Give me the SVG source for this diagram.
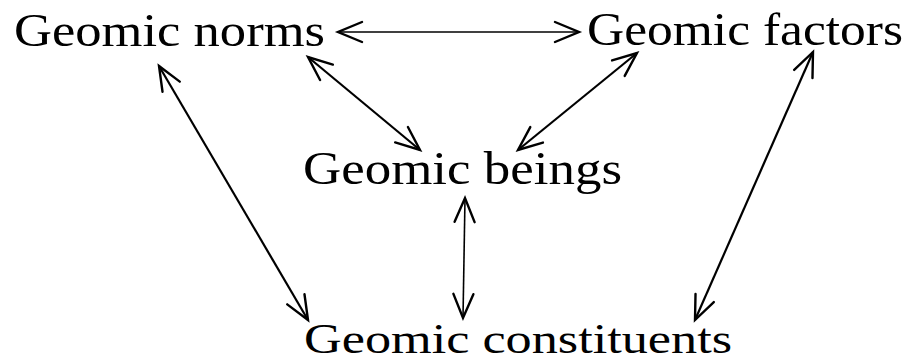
<svg xmlns="http://www.w3.org/2000/svg" width="909" height="363" viewBox="0 0 909 363">
<style>
.t{font-family:"Liberation Serif","Times New Roman",serif;font-size:46px;fill:#000}
.c{stroke:#000;stroke-width:2.2;fill:none;marker-start:url(#a);marker-end:url(#b)}
.thin{stroke-width:1.6}
</style>
<defs>
<marker id="b" markerUnits="userSpaceOnUse" viewBox="-30 -15 34 30" markerWidth="34" markerHeight="30" refX="0" refY="0" orient="auto" overflow="visible">
<path d="M-24,-10 L0,0 L-24,10" fill="none" stroke="#000" stroke-width="2.4" stroke-linecap="round" stroke-linejoin="miter"/>
</marker>
<marker id="a" markerUnits="userSpaceOnUse" viewBox="-30 -15 34 30" markerWidth="34" markerHeight="30" refX="0" refY="0" orient="auto-start-reverse" overflow="visible">
<path d="M-24,-10 L0,0 L-24,10" fill="none" stroke="#000" stroke-width="2.4" stroke-linecap="round" stroke-linejoin="miter"/>
</marker>
</defs>
<rect width="909" height="363" fill="#fff"/>
<g id="connectors">
<line class="c thin" x1="338" y1="32" x2="579" y2="32"/>
<line class="c" x1="159" y1="66" x2="308" y2="320"/>
<line class="c" x1="308" y1="57" x2="420" y2="150"/>
<line class="c" x1="637" y1="53" x2="518" y2="150"/>
<line class="c" x1="813" y1="52" x2="695" y2="320"/>
<line class="c thin" x1="465" y1="198" x2="463" y2="318"/>
</g>
<g id="norms"><text class="t" x="14" y="46" textLength="311" lengthAdjust="spacingAndGlyphs">Geomic norms</text></g>
<g id="factors"><text class="t" x="587" y="45" textLength="316" lengthAdjust="spacingAndGlyphs">Geomic factors</text></g>
<g id="beings"><text class="t" x="303" y="184" textLength="319" lengthAdjust="spacingAndGlyphs">Geomic beings</text></g>
<g id="constituents"><text class="t" x="304" y="353" style="font-size:42px" textLength="428" lengthAdjust="spacingAndGlyphs">Geomic constituents</text></g>
</svg>
